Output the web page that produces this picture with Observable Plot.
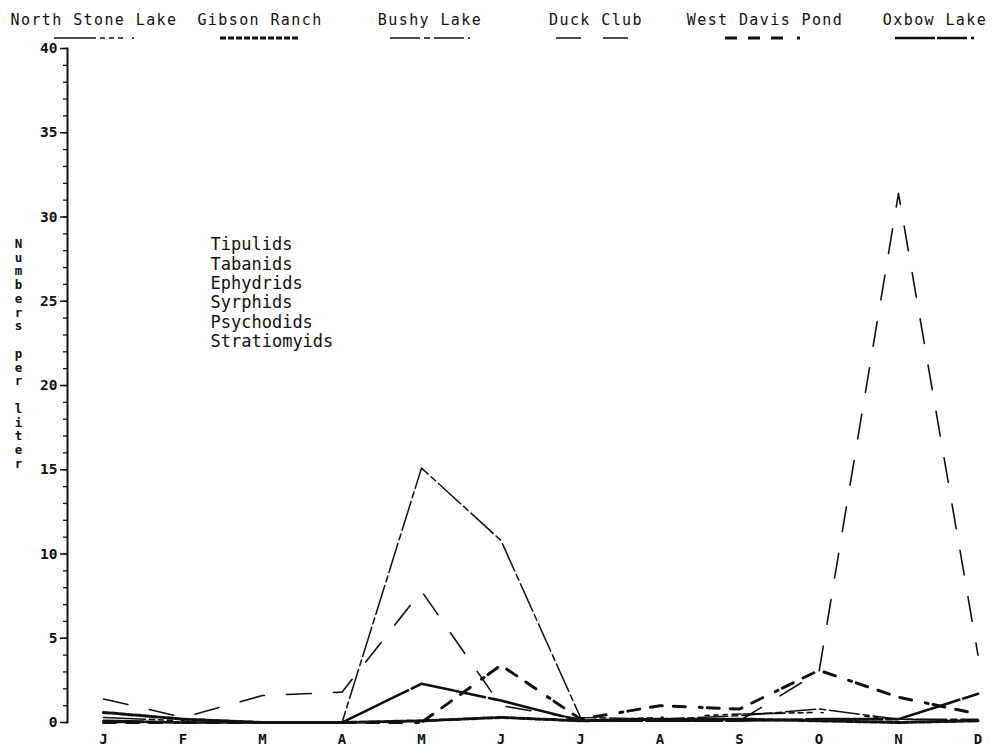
<!DOCTYPE html>
<html>
<head>
<meta charset="utf-8">
<script src="https://cdn.jsdelivr.net/npm/d3@7"></script>
<script src="https://cdn.jsdelivr.net/npm/@observablehq/plot@0.6"></script>
<style>
  body { margin: 0; background: #fff; }
  #wrap { position: relative; width: 992px; height: 755px; font-family: "DejaVu Sans Mono", monospace; color: #111; }
  #legend { position: relative; width: 992px; height: 40px; }
  .item { position: absolute; top: 0; width: 200px; margin-left: -100px; text-align: center; }
  .item .name { font-size: 15px; letter-spacing: 1.4px; line-height: 15px; padding-top: 13px; white-space: nowrap; }
  .item svg { display: block; margin: 7px auto 0; overflow: visible; }
  #chart svg { display: block; }
</style>
</head>
<body>
<div id="wrap">
  <div id="legend"></div>
  <div id="chart"></div>
</div>
<script>
// Monthly counts of dipteran larvae (numbers per liter) at six sites
const months = ["J", "F", "M", "A", "M", "J", "J", "A", "S", "O", "N", "D"];
const sites = ["North Stone Lake", "Gibson Ranch", "Bushy Lake", "Duck Club", "West Davis Pond", "Oxbow Lake"];
const taxa = ["Tipulids", "Tabanids", "Ephydrids", "Syrphids", "Psychodids", "Stratiomyids"];

const northStoneLake = [0.3, 0.1, 0.0, 0.0, 0.1, 0.3, 0.1, 0.3, 0.5, 0.6, 0.2, 0.1];
const gibsonRanch    = [0.6, 0.2, 0.0, 0.0, 0.1, 0.3, 0.1, 0.2, 0.2, 0.1, 0.0, 0.1];
const bushyLake      = [0.0, 0.0, 0.0, 0.0, 15.1, 10.8, 0.3, 0.2, 0.4, 0.8, 0.2, 0.2];
const duckClub       = [1.4, 0.3, 1.6, 1.8, 7.8, 1.0, 0.2, 0.1, 0.1, 3.0, 31.4, 4.0];
const westDavisPond  = [0.0, 0.0, 0.0, 0.0, 0.0, 3.4, 0.2, 1.0, 0.8, 3.1, 1.5, 0.5];
const oxbowLake      = [0.1, 0.0, 0.0, 0.0, 2.3, 1.3, 0.1, 0.1, 0.1, 0.2, 0.2, 1.7];

const yMajor = [0, 5, 10, 15, 20, 25, 30, 35, 40];

// plotter line types, one per site
const lineTypes = [
  {values: northStoneLake, dash: "42,4,5,4,5,4,5,9,2", width: 1.6},
  {values: gibsonRanch,    dash: "6,2",                width: 3},
  {values: bushyLake,      dash: "30,4,6,4",           width: 1.5},
  {values: duckClub,       dash: "25,22",              width: 1.6},
  {values: westDavisPond,  dash: "12,11,12,11,12,14,3,5", width: 3},
  {values: oxbowLake,      dash: "40,2,30,4,3,1",      width: 2.6}
];
const legendX = [94, 260, 430, 596, 765, 935];

// legend: site name with its line type underneath
const legend = document.getElementById("legend");
sites.forEach((name, i) => {
  const item = document.createElement("div");
  item.className = "item";
  item.style.left = legendX[i] + "px";
  const lt = lineTypes[i];
  item.innerHTML = `<div class="name">${name}</div>` +
    `<svg width="80" height="6"><line x1="0" x2="80" y1="3" y2="3" stroke="#111" ` +
    `stroke-width="${lt.width}" stroke-dasharray="${lt.dash}"/></svg>`;
  legend.appendChild(item);
});

const rows = sites.flatMap((site, s) =>
  lineTypes[s].values.map((v, m) => ({site, month: m, value: v})));

const yTitle = "Numbers per liter".split("").map(c => c === " " ? "" : c).join("\n");

const chart = Plot.plot({
  width: 992,
  height: 715,
  marginTop: 8,
  marginBottom: 33,
  marginLeft: 67,
  marginRight: 14,
  style: {fontFamily: "'DejaVu Sans Mono', monospace", color: "#111", background: "#fff"},
  x: {domain: [0, 11], range: [103, 977.5]},
  y: {domain: [0, 40]},
  marks: [
    Plot.frame({anchor: "left", strokeWidth: 2}),
    Plot.axisY({ticks: d3.range(0, 40.5, 1), tickSize: 4, text: null, strokeWidth: 1.3, label: null}),
    Plot.axisY({ticks: yMajor, tickSize: 7, tickPadding: 3, fontSize: 14.5, fontWeight: "bold", strokeWidth: 1.5, label: null}),
    Plot.axisX({ticks: d3.range(12), tickFormat: i => months[i], tickSize: 0, tickPadding: 12,
                fontSize: 14, fontWeight: "bold", label: null}),
    ...lineTypes.map((lt, s) =>
      Plot.line(rows.filter(d => d.site === sites[s]), {
        x: "month", y: "value",
        stroke: "#111", strokeWidth: lt.width, strokeDasharray: lt.dash,
        strokeLinejoin: "round"
      })),
    Plot.text([taxa.join("\n")], {
      text: d => d, frameAnchor: "top-left", textAnchor: "start", lineAnchor: "top",
      dx: 143, dy: 188, fontSize: 17, lineHeight: 1.14, fill: "#111"
    }),
    Plot.text([yTitle], {
      text: d => d, frameAnchor: "left", textAnchor: "middle", lineAnchor: "middle",
      dx: -49, dy: -32, fontSize: 12.5, fontWeight: "bold", lineHeight: 1.1, fill: "#111"
    })
  ]
});
document.getElementById("chart").appendChild(chart);
</script>
</body>
</html>
